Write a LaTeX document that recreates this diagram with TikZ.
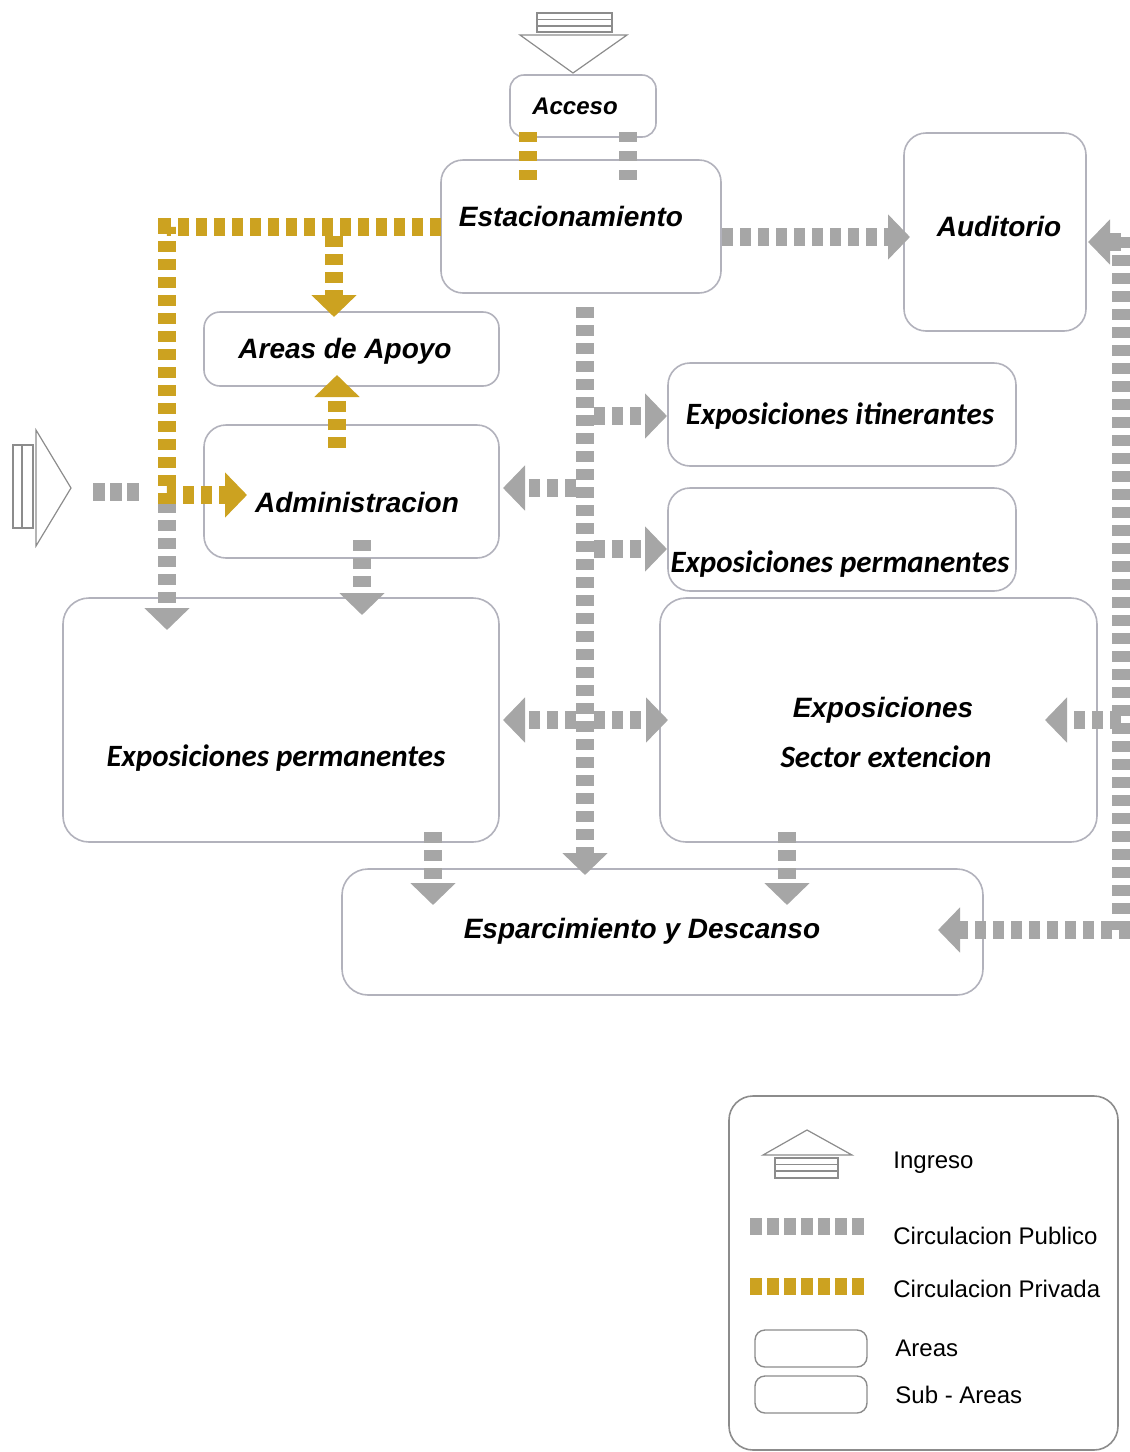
\documentclass[tikz,border=0pt]{standalone}
\usepackage{fontspec}
\setmainfont{Liberation Sans}
\newfontfamily\arialf{Liberation Sans}
\newfontfamily\calib{Carlito}
\usetikzlibrary{arrows.meta,calc}
\definecolor{pubgray}{RGB}{166,166,166}
\definecolor{privgold}{RGB}{204,162,32}
\definecolor{boxline}{RGB}{178,178,188}
\definecolor{symline}{RGB}{140,140,140}
\tikzset{
 area/.style={draw=boxline, line width=0.8pt, rounded corners=11pt, fill=white, inner sep=0pt, outer sep=0pt},
 lblA/.style={font=\arialf\bfseries\itshape\fontsize{14}{16}\selectfont, inner sep=0pt},
 lblC/.style={font=\calib\bfseries\itshape\fontsize{15.5}{18}\selectfont, inner sep=0pt},
 flow/.style={line width=9pt, dash pattern=on 5.5pt off 3.5pt},
 pub/.style={flow, draw=pubgray},
 priv/.style={flow, draw=privgold},
 tip/.style={-{Triangle[width=22pt,length=11pt]}},
 sym/.style={draw=symline, line width=0.6pt},
 legtxt/.style={font=\fontsize{12}{14}\selectfont, anchor=west, inner sep=0pt},
}
\begin{document}
\begin{tikzpicture}[x=0.5pt,y=-0.5pt]
\useasboundingbox (0,0) rectangle (1130,1452);
% ---------- boxes ----------
\node[area, rounded corners=7pt, minimum width=73pt, minimum height=31pt] (acc) at (583,106) {};
\node[area, minimum width=140pt, minimum height=66.5pt] (est) at (581,226.5) {};
\node[area, minimum width=91pt, minimum height=99pt] (aud) at (995,232) {};
\node[area, rounded corners=8pt, minimum width=147.5pt, minimum height=37pt] (apo) at (351.5,349) {};
\node[area, minimum width=147.5pt, minimum height=66.5pt] (adm) at (351.5,491.5) {};
\node[area, minimum width=174pt, minimum height=51.5pt] (iti) at (842,414.5) {};
\node[area, minimum width=174pt, minimum height=51.5pt] (perR) at (842,539.5) {};
\node[area, rounded corners=13pt, minimum width=218pt, minimum height=122pt] (perL) at (281,720) {};
\node[area, rounded corners=13pt, minimum width=218.5pt, minimum height=122pt] (sec) at (878.5,720) {};
\node[area, rounded corners=13pt, minimum width=320.5pt, minimum height=63pt] (esp) at (662.5,932) {};
% ---------- entrance symbols ----------
\draw[sym] (537,13) rectangle (612,32);
\draw[sym] (537,19.5) -- (612,19.5) (537,26) -- (612,26);
\draw[sym] (520,35) -- (627,35) -- (573,73) -- cycle;
\coordinate (ingTop) at (573,73);
\draw[sym] (13,445) rectangle (33,528);
\draw[sym] (22,445) -- (22,528);
\draw[sym] (36,430) -- (71,488) -- (36,546) -- cycle;
\coordinate (ingLeft) at (71,488);
% ---------- coordinates ----------
\coordinate (g0) at (528,132); \coordinate (g1) at (528,180);
\coordinate (p0) at (628,132); \coordinate (p1) at (628,180);
\coordinate (gA) at (441,227); \coordinate (gB) at (167,227);
\coordinate (gC) at (167,495); \coordinate (gD) at (247,495);
\coordinate (gE) at (334,236); \coordinate (gF) at (334,317);
\coordinate (gG) at (337,448); \coordinate (gH) at (337,375);
\coordinate (q0) at (93,492); \coordinate (q1) at (140,492);
\coordinate (q2) at (167,502); \coordinate (q3) at (167,630);
\coordinate (a0) at (362,540); \coordinate (a1) at (362,615);
\coordinate (e0) at (722,237); \coordinate (e1) at (910,237);
\coordinate (m0) at (585,307); \coordinate (m1) at (585,875);
\coordinate (b1s) at (594,416); \coordinate (b1e) at (667,416);
\coordinate (b2s) at (594,549); \coordinate (b2e) at (667,549);
\coordinate (b3s) at (576,488); \coordinate (b3e) at (503,488);
\coordinate (b4s) at (576,720); \coordinate (b4e) at (503,720);
\coordinate (b5s) at (594,720); \coordinate (b5e) at (668,720);
\coordinate (d0) at (433,832); \coordinate (d1) at (433,905);
\coordinate (s0) at (787,832); \coordinate (s1) at (787,905);
\coordinate (r0) at (1121,237); \coordinate (r1) at (1121,930); \coordinate (r2) at (938,930);
\coordinate (ra) at (1121,242); \coordinate (rb) at (1088,242);
\coordinate (rc) at (1121,720); \coordinate (rd) at (1045,720);
% ---------- public circulation ----------
\draw[pub, dash pattern=on 5pt off 4.5pt] (p0) -- (p1);
\draw[pub, dash pattern=on 6pt off 2.5pt] (q0) -- (q1);
\draw[pub, tip] (q2) -- (q3);
\draw[pub, tip] (a0) -- (a1);
\draw[pub, tip] (e0) -- (e1);
\draw[pub, tip] (m0) -- (m1);
\draw[pub, tip] (b1s) -- (b1e);
\draw[pub, tip] (b2s) -- (b2e);
\draw[pub, tip] (b3s) -- (b3e);
\draw[pub, tip] (b4s) -- (b4e);
\draw[pub, tip] (b5s) -- (b5e);
\draw[pub, tip] (d0) -- (d1);
\draw[pub, tip] (s0) -- (s1);
\draw[pub, tip] (r0) -- (r1) -- (r2);
\draw[pub, tip] (ra) -- (rb);
\draw[pub, tip] (rc) -- (rd);
% ---------- private circulation ----------
\draw[priv, dash pattern=on 5pt off 4.5pt] (g0) -- (g1);
\draw[priv, tip] (gA) -- (gB) -- (gC) -- (gD);
\draw[priv, tip] (gE) -- (gF);
\draw[priv, tip] (gG) -- (gH);
% ---------- labels ----------
\node[lblA, font=\arialf\bfseries\itshape\fontsize{12}{14}\selectfont] (tAcc) at (575,106) {Acceso};
\node[lblA] (tEst) at (571,216) {Estacionamiento};
\node[lblA] (tAud) at (999,226) {Auditorio};
\node[lblA] (tApo) at (345,351) {Areas de Apoyo};
\node[lblA] (tAdm) at (357,502) {Administracion};
\node[lblC] (tIti) at (840,416) {Exposiciones itinerantes};
\node[lblC] (tPerR) at (840,564) {Exposiciones permanentes};
\node[lblC] (tPerL) at (276,758) {Exposiciones permanentes};
\node[lblA] (tSec1) at (883,710) {Exposiciones};
\node[lblC] (tSec2) at (886,757) {Sector extencion};
\node[lblA] (tEsp) at (642,931) {Esparcimiento y Descanso};
% ---------- legend ----------
\node[draw=symline, line width=0.8pt, rounded corners=12pt, inner sep=0pt, minimum width=194.5pt, minimum height=177pt] (leg) at (923.5,1273) {};
\draw[sym] (763,1155) -- (807,1130) -- (852,1155) -- cycle;
\draw[sym] (775,1158) rectangle (838,1178);
\draw[sym] (775,1164.5) -- (838,1164.5) (775,1171) -- (838,1171);
\coordinate (l1a) at (750,1226); \coordinate (l1b) at (866,1226);
\coordinate (l2a) at (750,1286); \coordinate (l2b) at (866,1286);
\draw[pubgray, line width=8.5pt, dash pattern=on 6pt off 2.5pt] (l1a) -- (l1b);
\draw[privgold, line width=8.5pt, dash pattern=on 6pt off 2.5pt] (l2a) -- (l2b);
\node[draw=symline, line width=0.7pt, rounded corners=5pt, minimum width=56pt, minimum height=18.5pt, inner sep=0pt] (lArea) at (811,1348.5) {};
\node[draw=symline, line width=0.7pt, rounded corners=5pt, minimum width=56pt, minimum height=18.5pt, inner sep=0pt] (lSub) at (811,1394.5) {};
\node[legtxt] (tIng) at (893,1163) {Ingreso};
\node[legtxt] (tPub) at (893,1236) {Circulacion Publico};
\node[legtxt] (tPri) at (893,1289) {Circulacion Privada};
\node[legtxt] (tAr) at (895,1348) {Areas};
\node[legtxt] (tSub) at (895,1395) {Sub - Areas};
\end{tikzpicture}
\end{document}
